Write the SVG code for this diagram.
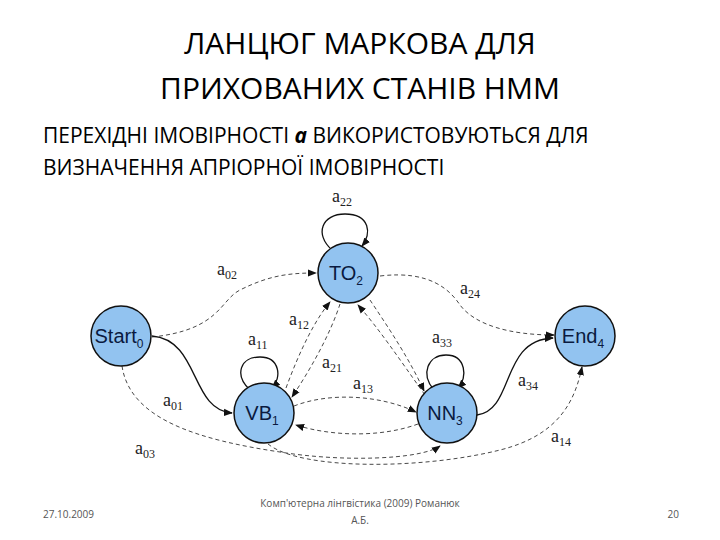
<svg xmlns="http://www.w3.org/2000/svg" width="720" height="540" viewBox="0 0 720 540">
<style>
.t{font-family:"Open Sans","Liberation Sans",sans-serif;fill:#000}
.n{fill:#92c3f0;stroke:#111;stroke-width:1.5}
.nl{font-family:"Liberation Sans",Arial,sans-serif;font-size:20px;fill:#0a1a40;text-anchor:middle}
.lb{font-family:"Liberation Serif",serif;font-size:18px;fill:#222}
.s{fill:none;stroke:#111;stroke-width:1.3}
.d{fill:none;stroke:#333;stroke-width:0.9;stroke-dasharray:4 3}
</style>
<defs><marker id="a" viewBox="0 0 10 10" refX="9" refY="5" markerWidth="9" markerHeight="9" orient="auto" markerUnits="userSpaceOnUse"><path d="M0,1 L10,5 L0,9 z" fill="#111"/></marker></defs>
<rect width="720" height="540" fill="#fff"/>
<text class="t" x="360" y="54" font-size="30" text-anchor="middle">ЛАНЦЮГ МАРКОВА ДЛЯ</text>
<text class="t" x="360" y="99" font-size="30" text-anchor="middle">ПРИХОВАНИХ СТАНІВ HMM</text>
<text class="t" x="43" y="143" font-size="21">ПЕРЕХІДНІ ІМОВІРНОСТІ <tspan font-weight="bold" font-style="italic">a</tspan> ВИКОРИСТОВУЮТЬСЯ ДЛЯ</text>
<text class="t" x="43" y="175" font-size="21">ВИЗНАЧЕННЯ АПРІОРНОЇ ІМОВІРНОСТІ</text>
<g id="connectors">
<path class="d" d="M152,337 C220,330 220,300 240,290 C270,275 290,273 316,273" marker-end="url(#a)"/>
<path class="s" d="M152,336 C200,340 190,410 232,413" marker-end="url(#a)"/>
<path class="d" d="M122,366 C130,420 200,440 280,452 C340,462 420,460 440,446" marker-end="url(#a)"/>
<path class="d" d="M268,444 C300,470 420,470 500,450 C560,435 575,400 582,367" marker-end="url(#a)"/>
<path class="s" d="M332,250 C314,234 322,214 345,214 C370,214 372,234 362,246" marker-end="url(#a)"/>
<path class="s" d="M250,390 C234,375 240,357 260,357 C280,357 282,378 272,388" marker-end="url(#a)"/>
<path class="s" d="M434,390 C420,374 428,355 446,355 C466,355 468,378 458,388" marker-end="url(#a)"/>
<path class="d" d="M286,388 C300,350 315,320 330,302" marker-end="url(#a)"/>
<path class="d" d="M340,304 C330,335 310,370 292,397" marker-end="url(#a)"/>
<path class="d" d="M370,300 C390,330 410,360 424,391" marker-end="url(#a)"/>
<path class="d" d="M425,395 C400,360 380,330 358,305" marker-end="url(#a)"/>
<path class="d" d="M294,406 C330,392 380,395 416,412" marker-end="url(#a)"/>
<path class="d" d="M418,424 C380,438 330,436 296,425" marker-end="url(#a)"/>
<path class="d" d="M380,276 C430,270 450,290 460,305 C475,325 510,335 554,335" marker-end="url(#a)"/>
<path class="s" d="M477,415 C515,410 500,340 553,338" marker-end="url(#a)"/>
</g>
<g id="labels">
<text class="lb" x="332" y="202">a<tspan font-size="12" dy="4">22</tspan></text>
<text class="lb" x="217" y="275">a<tspan font-size="12" dy="4">02</tspan></text>
<text class="lb" x="289" y="325">a<tspan font-size="12" dy="4">12</tspan></text>
<text class="lb" x="248" y="345">a<tspan font-size="12" dy="4">11</tspan></text>
<text class="lb" x="322" y="368">a<tspan font-size="12" dy="4">21</tspan></text>
<text class="lb" x="353" y="389">a<tspan font-size="12" dy="4">13</tspan></text>
<text class="lb" x="432" y="343">a<tspan font-size="12" dy="4">33</tspan></text>
<text class="lb" x="460" y="294">a<tspan font-size="12" dy="4">24</tspan></text>
<text class="lb" x="518" y="386">a<tspan font-size="12" dy="4">34</tspan></text>
<text class="lb" x="163" y="406">a<tspan font-size="12" dy="4">01</tspan></text>
<text class="lb" x="135" y="454">a<tspan font-size="12" dy="4">03</tspan></text>
<text class="lb" x="551" y="442">a<tspan font-size="12" dy="4">14</tspan></text>
</g>
<g id="start"><circle class="n" cx="121" cy="336" r="30"/><text class="nl" x="119" y="343">Start<tspan font-size="12" dy="5">0</tspan></text></g>
<g id="to2"><circle class="n" cx="348" cy="273" r="30"/><text class="nl" x="346" y="280">TO<tspan font-size="12" dy="5">2</tspan></text></g>
<g id="vb1"><circle class="n" cx="264" cy="413" r="30"/><text class="nl" x="262" y="420">VB<tspan font-size="12" dy="5">1</tspan></text></g>
<g id="nn3"><circle class="n" cx="447" cy="413" r="30"/><text class="nl" x="445" y="420">NN<tspan font-size="12" dy="5">3</tspan></text></g>
<g id="end4"><circle class="n" cx="585" cy="336" r="30"/><text class="nl" x="583" y="343">End<tspan font-size="12" dy="5">4</tspan></text></g>
<text class="t" x="43" y="518" font-size="10" style="fill:#555">27.10.2009</text>
<text class="t" x="360" y="507" font-size="10" text-anchor="middle" style="fill:#555">Комп'ютерна лінгвістика (2009) Романюк</text>
<text class="t" x="360" y="524" font-size="10" text-anchor="middle" style="fill:#555">А.Б.</text>
<text class="t" x="679" y="518" font-size="10" text-anchor="end" style="fill:#555">20</text>
</svg>
